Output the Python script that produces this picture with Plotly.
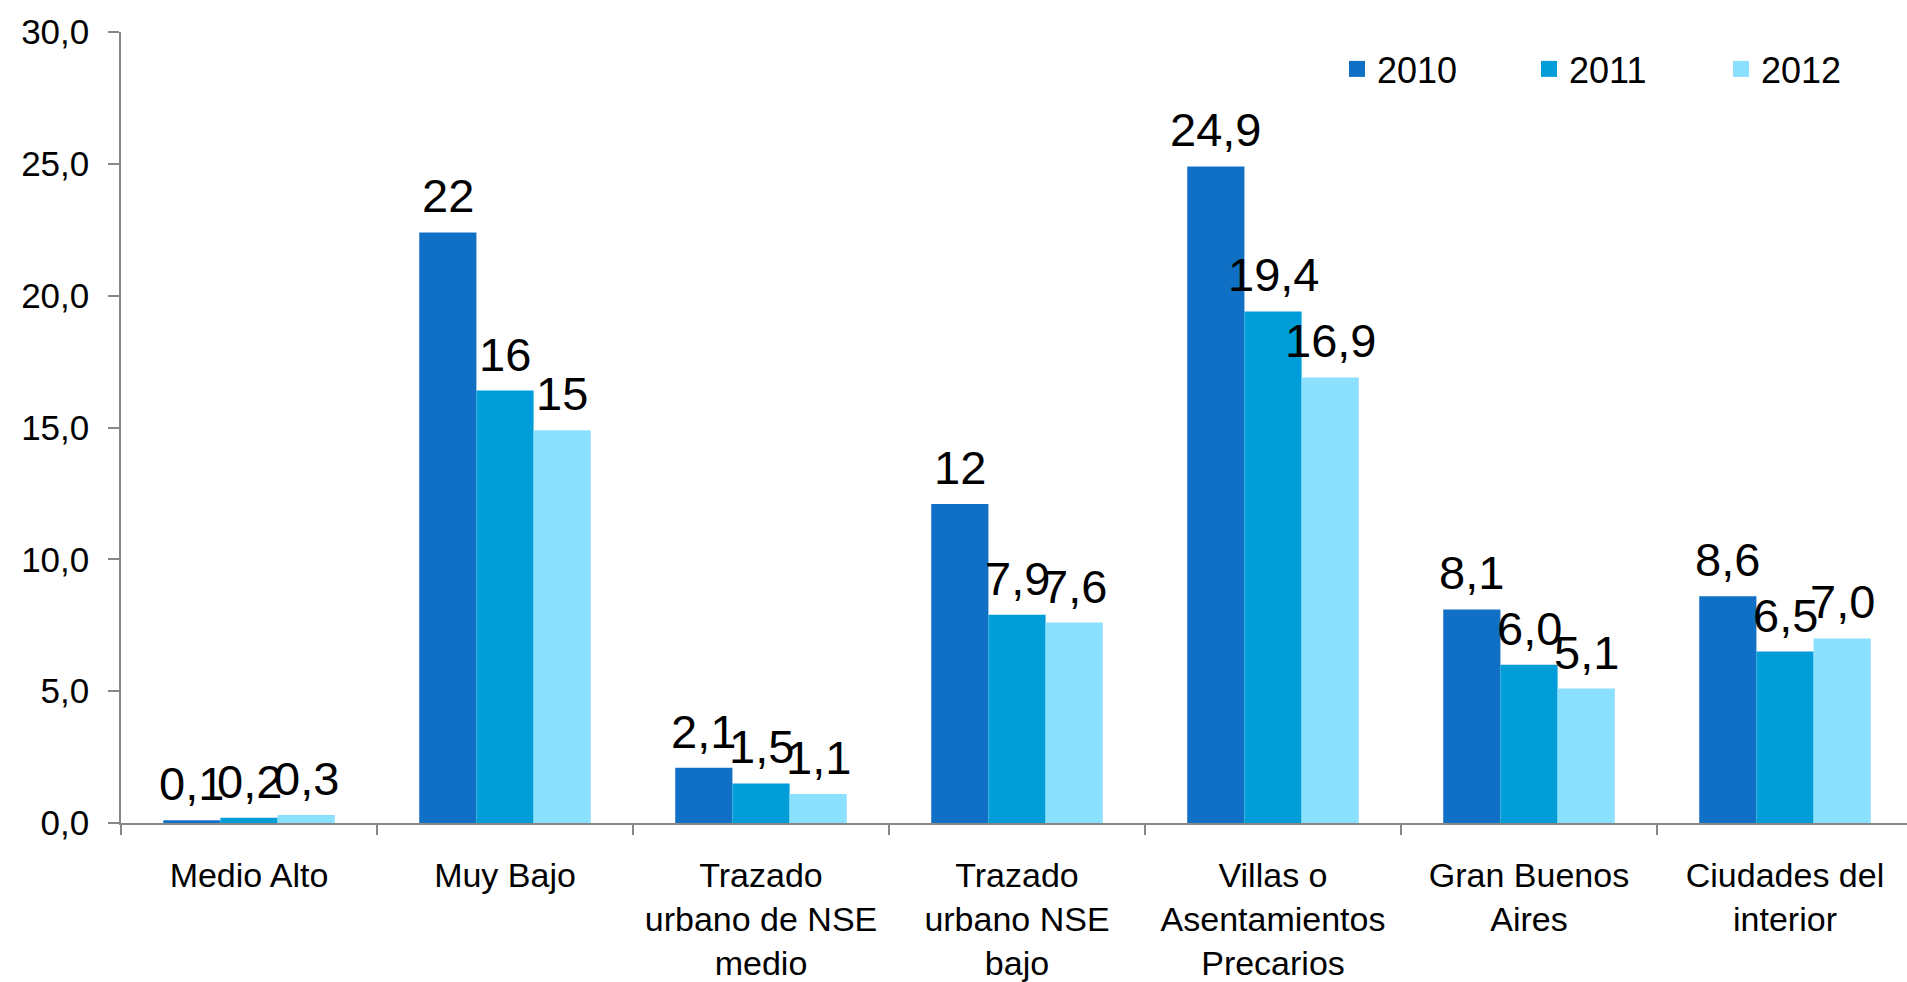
import plotly.graph_objects as go

categories = [
    "Medio Alto",
    "Muy Bajo",
    "Trazado<br>urbano de NSE<br>medio",
    "Trazado<br>urbano NSE<br>bajo",
    "Villas o<br>Asentamientos<br>Precarios",
    "Gran Buenos<br>Aires",
    "Ciudades del<br>interior",
]
years = ["2010", "2011", "2012"]
values_2010 = [0.1, 22.4, 2.1, 12.1, 24.9, 8.1, 8.6]
values_2011 = [0.2, 16.4, 1.5, 7.9, 19.4, 6.0, 6.5]
values_2012 = [0.3, 14.9, 1.1, 7.6, 16.9, 5.1, 7.0]
labels_2010 = ["0,1", "22", "2,1", "12", "24,9", "8,1", "8,6"]
labels_2011 = ["0,2", "16", "1,5", "7,9", "19,4", "6,0", "6,5"]
labels_2012 = ["0,3", "15", "1,1", "7,6", "16,9", "5,1", "7,0"]
y_tick_vals = [0, 5, 10, 15, 20, 25, 30]
y_tick_text = ["0,0", "5,0", "10,0", "15,0", "20,0", "25,0", "30,0"]

colors = ["#1070C6", "#009DD9", "#8CE0FF"]
series = [values_2010, values_2011, values_2012]
labels = [labels_2010, labels_2011, labels_2012]

FONT = "Liberation Sans, Arial, sans-serif"

W, H = 1907, 982
L, R, T, B = 121, 0, 32, 159
BARGAP = 0.33
X_RANGE = [-0.5, -0.5 + (W - L) / 256]
cat_px = (W - L - R) / (X_RANGE[1] - X_RANGE[0])
bar_px = cat_px * (1 - BARGAP) / len(years)

fig = go.Figure()
for name, vals, col in zip(years, series, colors):
    fig.add_trace(go.Bar(
        name=name, x=categories, y=vals,
        marker=dict(color=col, line=dict(width=0)),
        hoverinfo="skip", showlegend=False, legendgroup=name,
    ))
# legend entries (square swatches)
for name, col in zip(years, colors):
    fig.add_trace(go.Scatter(
        x=[None], y=[None], mode="markers", name=name, legendgroup=name,
        marker=dict(symbol="square", size=19, color=col), showlegend=True,
    ))

# value labels above each bar
annotations = []
for i, (vals, txt) in enumerate(zip(series, labels)):
    for cat, v, t in zip(categories, vals, txt):
        annotations.append(dict(
            x=cat, y=v, xref="x", yref="y", text=t, showarrow=False,
            xanchor="center", yanchor="bottom",
            xshift=(i - 1) * bar_px, yshift=8,
            font=dict(family=FONT, size=47, color="black"),
        ))

fig.update_layout(
    width=W, height=H,
    margin=dict(l=L, r=R, t=T, b=B, autoexpand=False),
    paper_bgcolor="white", plot_bgcolor="white",
    barmode="group", bargap=BARGAP, bargroupgap=0,
    font=dict(family=FONT, color="black"),
    showlegend=True,
    annotations=annotations,
    legend=dict(
        orientation="h", x=(1337 - L) / (W - L), xanchor="left",
        y=(H - B - 69) / (H - B - T), yanchor="middle",
        font=dict(size=36, family=FONT, color="black"),
        entrywidth=147, entrywidthmode="pixels", itemsizing="trace",
        bgcolor="rgba(0,0,0,0)", traceorder="normal",
    ),
    xaxis=dict(
        type="category", range=X_RANGE,
        showline=True, linecolor="#868686", linewidth=1.5,
        ticks="outside", tickson="boundaries", ticklen=10, tickcolor="#868686",
        tickwidth=1.5, tickfont=dict(size=34, family=FONT, color="black"),
        tickangle=0, automargin=False,
        showgrid=False, zeroline=False, ticklabelstandoff=21,
    ),
    yaxis=dict(
        range=[0, 30], tickvals=y_tick_vals, ticktext=y_tick_text,
        showline=True, linecolor="#868686", linewidth=1.5,
        ticks="outside", ticklen=11, tickcolor="#868686", tickwidth=1.5,
        tickfont=dict(size=35, family=FONT, color="black"), automargin=False,
        showgrid=False, zeroline=False, ticklabelstandoff=12,
    ),
)

fig.write_html(
    "out.html",
    config={"displayModeBar": False},
    post_script="document.body.style.margin='0';",
)
